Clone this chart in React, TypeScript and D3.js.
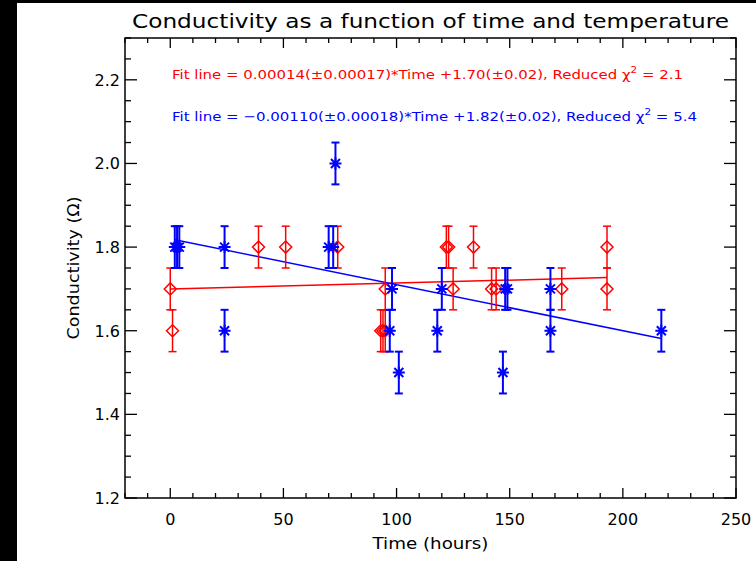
import * as d3 from "d3";

// red series (diamonds)
const redTime = [0, 1, 39, 51, 74, 93, 94, 95, 95, 122, 123, 125, 134, 142, 144, 173, 193, 193];
const redCond = [1.7, 1.6, 1.8, 1.8, 1.8, 1.6, 1.6, 1.6, 1.7, 1.8, 1.8, 1.7, 1.8, 1.7, 1.7, 1.7, 1.8, 1.7];
const redErr = redTime.map(() => 0.05);

// blue series (asterisks)
const blueTime = [2, 3, 4, 24, 24, 70, 72, 73, 97, 98, 101, 118, 120, 147, 148, 149, 168, 168, 217];
const blueCond = [1.8, 1.8, 1.8, 1.8, 1.6, 1.8, 1.8, 2.0, 1.6, 1.7, 1.5, 1.6, 1.7, 1.5, 1.7, 1.7, 1.6, 1.7, 1.6];
const blueErr = blueTime.map(() => 0.05);

// fit parameters
const redFit = { slope: 0.00014, intercept: 1.70 };
const blueFit = { slope: -0.0011, intercept: 1.82 };

const xMajor = [0, 50, 100, 150, 200, 250];
const yMajor = [1.2, 1.4, 1.6, 1.8, 2.0, 2.2];

const title = "Conductivity as a function of time and temperature";
const xTitle = "Time (hours)";
const yTitle = "Conductivity (\u03A9)";

const width = 756, height = 561;
const left = 125, right = 736, top = 38, bottom = 498;
const RED = "#ff0000", BLUE = "#0000ff";
const font = "'DejaVu Sans', sans-serif";

export default function App() {
  const x = d3.scaleLinear([-20, 250], [left, right]);
  const y = d3.scaleLinear([1.2, 2.3], [bottom, top]);

  const xMinor = d3.range(-2, 26).map(i => i * 10).filter(v => v % 50 !== 0);
  const yMinor = d3.range(24, 47).map(i => +(i * 0.05).toFixed(2)).filter(v => Math.round(v * 100) % 20 !== 0);

  const fitLine = (fit, times) => {
    const ext = d3.extent(times);
    return d3.line()([ext[0], ext[1]].map(t => [x(t), y(fit.intercept + fit.slope * t)]));
  };

  const errBars = (times, vals, errs, color, sw) =>
    times.map((t, i) => {
      const cx = x(t), y0 = y(vals[i] - errs[i]), y1 = y(vals[i] + errs[i]);
      return (
        <g key={i} stroke={color} strokeWidth={sw} fill="none">
          <line x1={cx} x2={cx} y1={y0} y2={y1} />
          <line x1={cx - 4} x2={cx + 4} y1={y0} y2={y0} />
          <line x1={cx - 4} x2={cx + 4} y1={y1} y2={y1} />
        </g>
      );
    });

  return (
    <svg width={width} height={height} style={{ position: "absolute", left: 0, top: 0 }} fontFamily={font}>
      <rect x={0} y={0} width={width} height={height} fill="#fff" />
      <rect x={0} y={0} width={17} height={height} fill="#000" />
      <rect x={0} y={0} width={width} height={3} fill="#000" />

      <text x={(left + right) / 2} y={28} textAnchor="middle" fontSize={20} textLength={597} lengthAdjust="spacingAndGlyphs">{title}</text>

      {/* frame */}
      <rect x={left} y={top} width={right - left} height={bottom - top} fill="none" stroke="#000" strokeWidth={1.5} />

      {/* x ticks */}
      <g stroke="#000" strokeWidth={1.3}>
        {xMajor.map(v => (
          <g key={"xm" + v}>
            <line x1={x(v)} x2={x(v)} y1={bottom} y2={bottom - 10} />
            <line x1={x(v)} x2={x(v)} y1={top} y2={top + 10} />
          </g>
        ))}
        {xMinor.map(v => (
          <g key={"xn" + v}>
            <line x1={x(v)} x2={x(v)} y1={bottom} y2={bottom - 5} />
            <line x1={x(v)} x2={x(v)} y1={top} y2={top + 5} />
          </g>
        ))}
        {yMajor.map(v => (
          <g key={"ym" + v}>
            <line x1={left} x2={left + 12} y1={y(v)} y2={y(v)} />
            <line x1={right} x2={right - 12} y1={y(v)} y2={y(v)} />
          </g>
        ))}
        {yMinor.map(v => (
          <g key={"yn" + v}>
            <line x1={left} x2={left + 6} y1={y(v)} y2={y(v)} />
            <line x1={right} x2={right - 6} y1={y(v)} y2={y(v)} />
          </g>
        ))}
      </g>

      <g fontSize={16} fill="#000">
        {xMajor.map(v => (
          <text key={"xl" + v} x={x(v)} y={525} textAnchor="middle">{v}</text>
        ))}
        {yMajor.map(v => (
          <text key={"yl" + v} x={120} y={y(v) + 6} textAnchor="end">{v.toFixed(1)}</text>
        ))}
      </g>

      <text x={(left + right) / 2} y={549} textAnchor="middle" fontSize={16} textLength={116} lengthAdjust="spacingAndGlyphs">{xTitle}</text>
      <text transform={`translate(79,${(top + bottom) / 2}) rotate(-90)`} textAnchor="middle" fontSize={16} textLength={143} lengthAdjust="spacingAndGlyphs">{yTitle}</text>

      {/* fit annotations */}
      <text x={172} y={79} fontSize={13} fill={RED} textLength={511} lengthAdjust="spacingAndGlyphs">
        Fit line = 0.00014(±0.00017)*Time +1.70(±0.02), Reduced {"\u03C7"}<tspan dy={-6} fontSize={9}>2</tspan><tspan dy={6}> = 2.1</tspan>
      </text>
      <text x={172} y={121} fontSize={13} fill={BLUE} textLength={525} lengthAdjust="spacingAndGlyphs">
        Fit line = {"\u2212"}0.00110(±0.00018)*Time  +1.82(±0.02), Reduced {"\u03C7"}<tspan dy={-6} fontSize={9}>2</tspan><tspan dy={6}> = 5.4</tspan>
      </text>

      {/* fit lines */}
      <path d={fitLine(redFit, redTime)} stroke={RED} strokeWidth={1.5} fill="none" />
      <path d={fitLine(blueFit, blueTime)} stroke={BLUE} strokeWidth={1.5} fill="none" />

      {/* error bars */}
      {errBars(redTime, redCond, redErr, RED, 1.5)}
      {errBars(blueTime, blueCond, blueErr, BLUE, 2)}

      {/* red diamonds */}
      <g stroke={RED} strokeWidth={1.5} fill="none">
        {redTime.map((t, i) => {
          const cx = x(t), cy = y(redCond[i]);
          return <path key={i} d={`M${cx - 6},${cy}L${cx},${cy - 6}L${cx + 6},${cy}L${cx},${cy + 6}Z`} />;
        })}
      </g>

      {/* blue asterisks */}
      <g stroke={BLUE} strokeWidth={2} fill="none">
        {blueTime.map((t, i) => {
          const cx = x(t), cy = y(blueCond[i]), s = 6, d = 4.5;
          return (
            <path key={i} d={`M${cx - s},${cy}L${cx + s},${cy}M${cx},${cy - s}L${cx},${cy + s}M${cx - d},${cy - d}L${cx + d},${cy + d}M${cx - d},${cy + d}L${cx + d},${cy - d}`} />
          );
        })}
      </g>
    </svg>
  );
}
